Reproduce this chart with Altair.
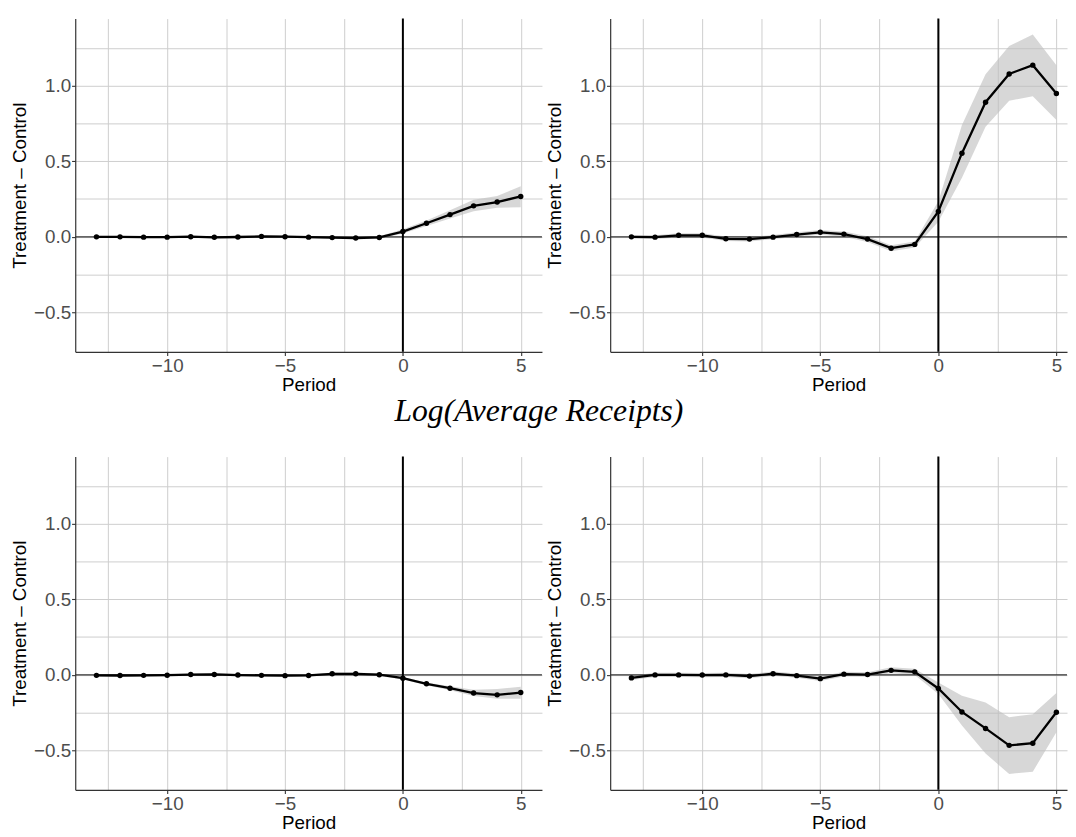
import altair as alt
import pandas as pd

periods = list(range(-13, 6))

# Top-left panel
tl_est = [0.000, 0.000, -0.002, -0.002, 0.001, -0.003, -0.001, 0.003, 0.001, -0.002, -0.005, -0.008, -0.004,
          0.035, 0.090, 0.147, 0.205, 0.230, 0.267]
tl_lo = [-0.006, -0.006, -0.008, -0.008, -0.005, -0.009, -0.007, -0.004, -0.006, -0.009, -0.012, -0.016, -0.012,
         0.022, 0.072, 0.122, 0.170, 0.192, 0.196]
tl_hi = [0.006, 0.006, 0.004, 0.004, 0.007, 0.003, 0.005, 0.010, 0.008, 0.005, 0.002, 0.000, 0.004,
         0.050, 0.108, 0.175, 0.245, 0.270, 0.335]

# Top-right panel
tr_est = [0.000, -0.002, 0.010, 0.010, -0.013, -0.015, -0.002, 0.015, 0.030, 0.018, -0.015, -0.075, -0.050,
          0.168, 0.553, 0.890, 1.077, 1.135, 0.948]
tr_lo = [-0.010, -0.014, -0.004, -0.004, -0.028, -0.030, -0.016, 0.000, 0.014, 0.000, -0.034, -0.095, -0.070,
         0.100, 0.390, 0.728, 0.900, 0.930, 0.772]
tr_hi = [0.010, 0.010, 0.024, 0.024, 0.002, 0.000, 0.012, 0.030, 0.046, 0.036, 0.004, -0.055, -0.030,
         0.235, 0.740, 1.075, 1.262, 1.337, 1.134]

# Bottom-left panel
bl_est = [-0.003, -0.004, -0.003, -0.002, 0.002, 0.003, -0.001, -0.003, -0.005, -0.004, 0.007, 0.007, 0.001,
          -0.022, -0.059, -0.088, -0.120, -0.132, -0.117]
bl_lo = [-0.010, -0.011, -0.010, -0.009, -0.005, -0.004, -0.008, -0.010, -0.012, -0.011, -0.001, -0.001, -0.007,
         -0.030, -0.068, -0.102, -0.140, -0.158, -0.158]
bl_hi = [0.004, 0.003, 0.004, 0.005, 0.009, 0.010, 0.006, 0.004, 0.002, 0.003, 0.015, 0.015, 0.009,
         -0.014, -0.050, -0.075, -0.098, -0.094, -0.078]

# Bottom-right panel
br_est = [-0.020, 0.000, 0.000, -0.001, 0.000, -0.008, 0.008, -0.005, -0.025, 0.005, 0.002, 0.030, 0.020,
          -0.090, -0.245, -0.354, -0.466, -0.452, -0.247]
br_lo = [-0.034, -0.014, -0.014, -0.015, -0.014, -0.022, -0.006, -0.019, -0.040, -0.010, -0.013, 0.010, 0.000,
         -0.127, -0.335, -0.520, -0.655, -0.640, -0.380]
br_hi = [-0.006, 0.014, 0.014, 0.013, 0.014, 0.006, 0.022, 0.009, -0.010, 0.020, 0.017, 0.050, 0.040,
         -0.050, -0.138, -0.182, -0.280, -0.260, -0.120]

x_grid = [-12.5, -10, -7.5, -5, -2.5, 0, 2.5, 5]
y_grid = [-0.5, -0.25, 0, 0.25, 0.5, 0.75, 1.0, 1.25]
ref_zero = [0]

Y_DOMAIN = [-0.76, 1.443]
TITLE = "Log(Average Receipts)"


def panel(est, lo, hi, xmax, width):
    df = pd.DataFrame({"Period": periods, "est": est, "lo": lo, "hi": hi})
    zero_df = pd.DataFrame({"z": ref_zero})
    xs = alt.Scale(domain=[-13.9, xmax], nice=False, zero=False)
    ys = alt.Scale(domain=Y_DOMAIN, nice=False, zero=False)
    xaxis = alt.Axis(
        values=x_grid,
        labelExpr="datum.value % 5 == 0 ? format(datum.value, 'd') : ''",
        tickOpacity={"condition": {"test": "datum.value % 5 != 0", "value": 0}, "value": 1},
        labelFlush=False,
        title="Period",
        titlePadding=0,
    )
    yaxis = alt.Axis(
        values=y_grid,
        labelExpr="abs(datum.value * 2 - round(datum.value * 2)) < 1e-6 ? format(datum.value, '.1f') : ''",
        tickOpacity={"condition": {"test": "abs(datum.value * 2 - round(datum.value * 2)) > 1e-6", "value": 0}, "value": 1},
        title="Treatment \u2013 Control",
        titlePadding=4.5,
    )
    base = alt.Chart(df)
    band = base.mark_area(color="#BDBDBD", opacity=0.6, clip=True).encode(
        x=alt.X("Period:Q", scale=xs, axis=xaxis),
        y=alt.Y("lo:Q", scale=ys, axis=yaxis),
        y2="hi:Q",
    )
    hline = alt.Chart(zero_df).mark_rule(color="#333333", strokeWidth=1.1).encode(y=alt.Y("z:Q", scale=ys))
    vline = alt.Chart(zero_df).mark_rule(color="#000000", strokeWidth=2).encode(x=alt.X("z:Q", scale=xs))
    line = base.mark_line(color="black", strokeWidth=2.3, clip=True).encode(
        x=alt.X("Period:Q", scale=xs), y=alt.Y("est:Q", scale=ys)
    )
    pts = base.mark_circle(color="black", opacity=1, size=30, clip=True).encode(
        x=alt.X("Period:Q", scale=xs), y=alt.Y("est:Q", scale=ys)
    )
    return alt.layer(band, hline, vline, line, pts).properties(width=width, height=337)


tl = panel(tl_est, tl_lo, tl_hi, 5.9, 472)
tr = panel(tr_est, tr_lo, tr_hi, 5.45, 462)
bl = panel(bl_est, bl_lo, bl_hi, 5.9, 472)
br = panel(br_est, br_lo, br_hi, 5.45, 462)

row1 = alt.hconcat(tl, tr, spacing=2)
row2 = alt.hconcat(
    bl, br, spacing=2,
    title=alt.TitleParams(
        TITLE, font="Liberation Serif", fontStyle="italic", fontWeight="normal",
        fontSize=32, color="black", anchor="middle", baseline="alphabetic", offset=3,
    ),
)

chart = (
    alt.vconcat(row1, row2, spacing=1)
    .properties(padding={"left": 2, "top": 5, "right": 0, "bottom": 0})
    .configure_view(stroke=None)
    .configure_axis(
        domainColor="#333333", domainWidth=1.2,
        tickColor="#333333", tickSize=3.7, tickWidth=1.1,
        gridColor="#CDCDCD", gridWidth=1,
        labelFont="Liberation Sans", labelFontSize=19, labelColor="#4D4D4D", labelPadding=1,
        titleFont="Liberation Sans", titleFontSize=19, titleFontWeight="normal", titleColor="black",
    )
)

chart.save("out.html", embed_options={"renderer": "svg", "actions": False})
